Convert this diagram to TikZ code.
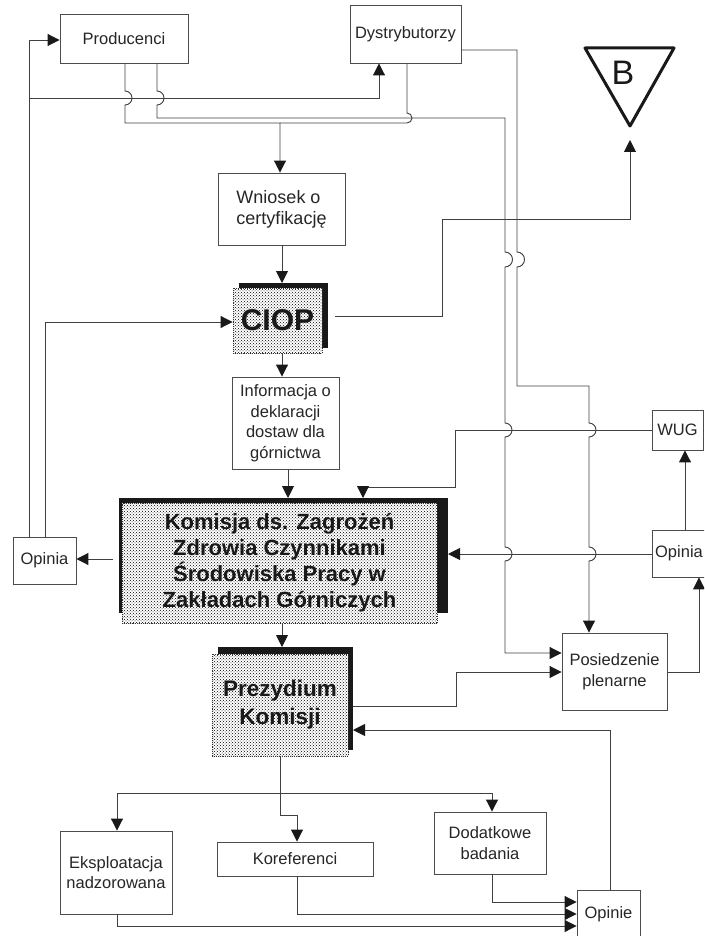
\documentclass[tikz,border=0pt]{standalone}
\usepackage{fontspec}
\setmainfont{Liberation Sans}
\usetikzlibrary{arrows.meta,patterns}
\begin{document}
\begin{tikzpicture}[x=1pt,y=-1pt,
  ln/.style={draw=black!75, line width=0.95pt},
  arr/.style={ln, -{Triangle[length=12pt,width=12pt,color=black!90]}},
  box/.style={draw=black!70, line width=0.9pt, fill=white, inner sep=0pt, align=center,
    text=black!85, font=\fontsize{16.5}{20.5}\selectfont},
  dotbox/.style={draw=black!80, densely dotted, line width=0.9pt, preaction={fill=white},
    pattern=crosshatch dots, pattern color=black, inner sep=0pt, align=center, text=black!90},
  shadowfill/.style={fill=black!90}
]
\useasboundingbox (0,0) rectangle (704,936);
\clip (0,0) rectangle (704,936);

% ---------- shadows of the shaded boxes ----------
\fill[shadowfill] (239,283) rectangle (328,348);
\fill[shadowfill] (119,498) rectangle (448,613);
\fill[shadowfill] (218,647) rectangle (353,750);

% ---------- nodes ----------
\node[box, minimum width=128, minimum height=49] (prod) at (124,38.5) {Producenci};
\node[box, minimum width=111, minimum height=58] (dyst) at (405.5,34) {Dystrybutorzy};
\node[box, minimum width=127, minimum height=72, align=left,
      font=\fontsize{18}{21}\selectfont] (wn) at (281.5,209) {Wniosek o\\certyfikację};
\node[dotbox, minimum width=89, minimum height=65,
      font=\fontsize{30}{30}\selectfont\bfseries] (ciop) at (277.5,320.5) {CIOP};
\node[box, minimum width=107, minimum height=92] (info) at (285.5,423)
      {Informacja o\\deklaracji\\dostaw dla\\górnictwa};
\node[dotbox, minimum width=315, minimum height=120,
      font=\fontsize{22}{26}\selectfont\bfseries] (kom) at (279.5,563)
      {Komisja ds. Zagrożeń\\Zdrowia Czynnikami\\Środowiska Pracy w\\Zakładach Górniczych};
\node[dotbox, minimum width=136, minimum height=102,
      font=\fontsize{22.5}{28}\selectfont\bfseries] (prez) at (280,705) {Prezydium\\Komisji};
\node[box, minimum width=63, minimum height=47] (opl) at (44.5,560.5) {Opinia};
\node[box, minimum width=51, minimum height=40] (wug) at (677.5,430) {WUG};
\node[box, minimum width=54, minimum height=47] (opr) at (679,553.5) {Opinia};
\node[box, minimum width=105, minimum height=77] (pos) at (614.5,671.5) {Posiedzenie\\plenarne};
\node[box, minimum width=112, minimum height=83] (eks) at (116,872.5) {Eksploatacja\\nadzorowana};
\node[box, minimum width=156, minimum height=34] (kor) at (295,859) {Koreferenci};
\node[box, minimum width=112, minimum height=62] (dod) at (490,843) {Dodatkowe\\badania};
\node[box, minimum width=63, minimum height=48] (opinie) at (608.5,914) {Opinie};

% ---------- B marker ----------
\draw[line width=3pt, black!90, line join=round] (585,48) -- (674,48) -- (630,126) -- cycle;
\node[text=black!90, font=\fontsize{34}{34}\selectfont, inner sep=0pt] (B) at (623,73) {B};
\coordinate (btip) at (630,140);

% ---------- connectors ----------
% Opinia (left) -> Producenci, branch to Dystrybutorzy
\draw[arr] (29,0 |- opl.north) -- (29,40) -- (29,40 -| prod.west);
\coordinate (j1) at (29,98);
\draw[arr] (j1) -- (379,98) -- (379,0 |- dyst.south);
% Producenci -> Wniosek
\draw[arr] (125,0 |- prod.south) -- (125,91) arc[start angle=90,end angle=-90,radius=7pt]
   -- (125,123) -- (280,123) -- (280,0 |- wn.north);
% Dystrybutorzy -> Wniosek (joins)
\draw[ln] (407,0 |- dyst.south) -- (407,113) arc[start angle=90,end angle=-90,radius=5pt]
   -- (407,123) -- (280,123);
% Producenci -> Posiedzenie plenarne
\draw[arr] (157,0 |- prod.south) -- (157,91) arc[start angle=90,end angle=-90,radius=7pt]
   -- (157,118) -- (505,118) -- (505,252) arc[start angle=90,end angle=-90,radius=7.5pt]
   -- (505,423) arc[start angle=90,end angle=-90,radius=7pt]
   -- (505,547) arc[start angle=90,end angle=-90,radius=7pt]
   -- (505,653) -- (505,653 -| pos.west);
% Dystrybutorzy -> Posiedzenie plenarne
\draw[arr] (dyst.east |- 0,50) -- (517,50) -- (517,252) arc[start angle=90,end angle=-90,radius=7.5pt]
   -- (517,386) -- (589,386) -- (589,423) arc[start angle=90,end angle=-90,radius=7pt]
   -- (589,547) arc[start angle=90,end angle=-90,radius=7pt]
   -- (589,0 |- pos.north);
% CIOP -> B
\draw[arr] ([xshift=13pt,yshift=4.5pt]ciop.east) -- (442,316) -- (442,219) -- (630,219) -- (btip);
% Wniosek -> CIOP
\draw[arr] (282,0 |- wn.south) -- (282,283);
% Opinia (left) -> CIOP
\draw[arr] (45,0 |- opl.north) -- (45,322) -- (45,322 -| ciop.west);
% CIOP -> Informacja
\draw[arr] (282,353) -- (282,0 |- info.north);
% Informacja -> Komisja
\draw[arr] (288,0 |- info.south) -- (288,498);
% WUG -> Komisja
\draw[arr] (wug.west |- 0,430) -- (455,430) -- (455,487) -- (363,487) -- (363,498);
% Opinia (right) -> Komisja
\draw[arr] (opr.west |- 0,554) -- (448,554);
% Komisja -> Opinia (left)
\draw[arr] (113,559) -- (opl.east |- 0,559);
% Opinia (right) -> WUG
\draw[arr] (685,0 |- opr.north) -- (685,0 |- wug.south);
% Posiedzenie -> Opinia (right)
\draw[arr] (pos.east |- 0,672) -- (699,672) -- (699,0 |- opr.south);
% Komisja -> Prezydium
\draw[arr] (282,0 |- kom.south) -- (282,647);
% Prezydium -> Posiedzenie
\draw[arr] (353,706) -- (456,706) -- (456,672) -- (pos.west |- 0,672);
% Opinie -> Prezydium
\draw[arr] (610,0 |- opinie.north) -- (610,730) -- (353,730);
% Prezydium -> Koreferenci / Eksploatacja / Dodatkowe badania
\draw[arr] (280,0 |- prez.south) -- (280,815) -- (297,815) -- (297,0 |- kor.north);
\coordinate (j2) at (280,793);
\draw[arr] (j2) -- (117,793) -- (117,0 |- eks.north);
\draw[arr] (j2) -- (492,793) -- (492,0 |- dod.north);
% -> Opinie
\draw[arr] (492,0 |- dod.south) -- (492,902) -- (opinie.west |- 0,902);
\draw[arr] (297,0 |- kor.south) -- (297,914) -- (opinie.west |- 0,914);
\draw[arr] (117,0 |- eks.south) -- (117,926) -- (opinie.west |- 0,926);
\end{tikzpicture}
\end{document}
